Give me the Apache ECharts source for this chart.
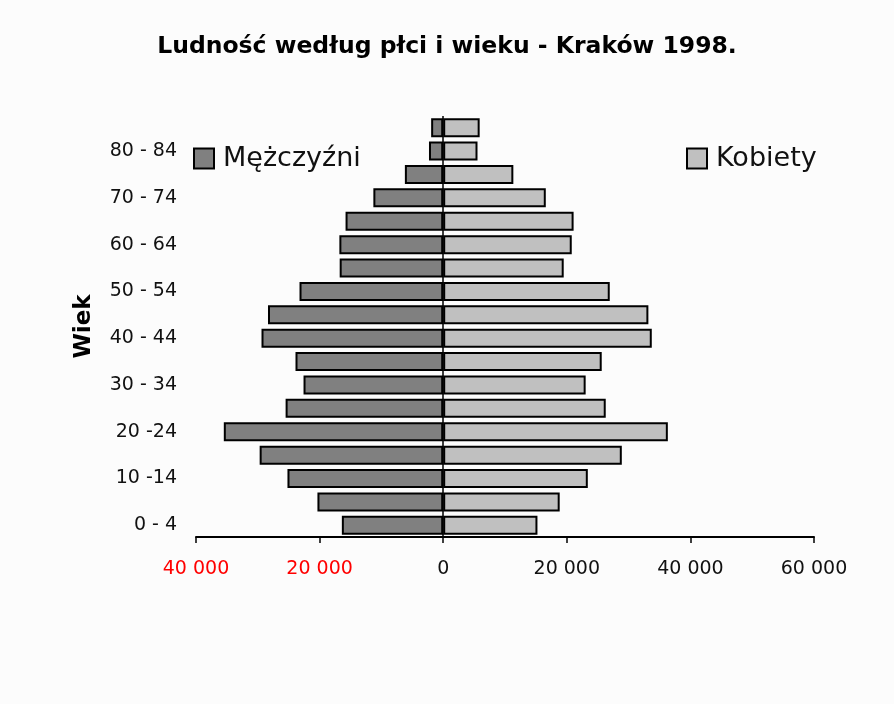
<!DOCTYPE html>
<html>
<head>
<meta charset="utf-8">
<script src="https://cdn.jsdelivr.net/npm/echarts@6/dist/echarts.min.js"></script>
<style>
html,body{margin:0;padding:0;background:#fcfcfc;}
#chart{width:894px;height:704px;}
</style>
</head>
<body>
<div id="chart"></div>
<script>
const categories = ['0 - 4','5 - 9','10 -14','15 - 19','20 -24','25 - 29','30 - 34','35 - 39','40 - 44','45 - 49','50 - 54','55 - 59','60 - 64','65 - 69','70 - 74','75 - 79','80 - 84','85 +'];
const men = [16400, 20350, 25200, 29700, 35500, 25500, 22600, 23900, 29400, 28350, 23250, 16750, 16800, 15800, 11300, 6200, 2300, 1950];
const women = [15250, 18850, 23400, 28900, 36350, 26300, 23050, 25650, 33750, 33200, 26950, 19500, 20800, 21100, 16600, 11350, 5550, 5900];
const xTicks = { min: -40000, max: 60000, interval: 20000 };
const titleText = 'Ludność według płci i wieku - Kraków 1998.';
const axisName = 'Wiek';
const seriesNames = ['Mężczyźni', 'Kobiety'];

const chart = echarts.init(document.getElementById('chart'));
function fmt(v) {
  const a = Math.abs(v);
  return String(a).replace(/\B(?=(\d{3})+(?!\d))/g, ' ');
}
const legendText = { fontFamily: 'DejaVu Sans', fontSize: 27, color: '#111', padding: [0, 0, 0, 4] };
chart.setOption({
  backgroundColor: '#fcfcfc',
  animation: false,
  title: {
    text: titleText,
    left: 'center',
    top: 30,
    textStyle: { fontFamily: 'DejaVu Sans', fontWeight: 'bold', fontSize: 23.5, color: '#000' }
  },
  legend: [
    { data: [seriesNames[0]], left: 193, top: 145, padding: 0, itemWidth: 20, itemHeight: 20, icon: 'rect', textStyle: legendText },
    { data: [seriesNames[1]], left: 686, top: 145, padding: 0, itemWidth: 20, itemHeight: 20, icon: 'rect', textStyle: legendText }
  ],
  grid: { left: 196, right: 80, top: 116, bottom: 167, containLabel: false },
  xAxis: {
    type: 'value',
    min: xTicks.min, max: xTicks.max, interval: xTicks.interval,
    splitLine: { show: false },
    axisLine: { show: true, onZero: false, lineStyle: { color: '#000', width: 2 } },
    axisTick: { show: true, length: 6, lineStyle: { color: '#000', width: 1.5 } },
    axisLabel: {
      margin: 23,
      fontFamily: 'DejaVu Sans', fontSize: 19,
      formatter: fmt,
      color: function (v) { return Number(v) < 0 ? '#ff0000' : '#111'; }
    }
  },
  yAxis: {
    type: 'category',
    data: categories,
    name: axisName,
    nameLocation: 'middle',
    nameGap: 100,
    nameRotate: 90,
    nameTextStyle: { fontFamily: 'DejaVu Sans', fontWeight: 'bold', fontSize: 23, color: '#000' },
    axisLine: { show: false, onZero: false },
    axisTick: { show: false },
    axisLabel: { interval: 1, margin: 19, padding: [4, 0, 0, 0], fontFamily: 'DejaVu Sans', fontSize: 19, color: '#111' }
  },
  series: [
    {
      name: seriesNames[0],
      type: 'bar',
      data: men.map(v => -v),
      barWidth: 19,
      barGap: '-100%',
      itemStyle: { color: '#808080', borderColor: '#000', borderWidth: 2 }
    },
    {
      name: seriesNames[1],
      type: 'bar',
      data: women,
      barWidth: 19,
      barGap: '-100%',
      itemStyle: { color: '#c0c0c0', borderColor: '#000', borderWidth: 2 },
      markLine: {
        silent: true,
        symbol: 'none',
        label: { show: false },
        lineStyle: { color: '#000', width: 1.5, type: 'solid' },
        data: [{ xAxis: 0 }]
      }
    }
  ]
});
</script>
</body>
</html>
